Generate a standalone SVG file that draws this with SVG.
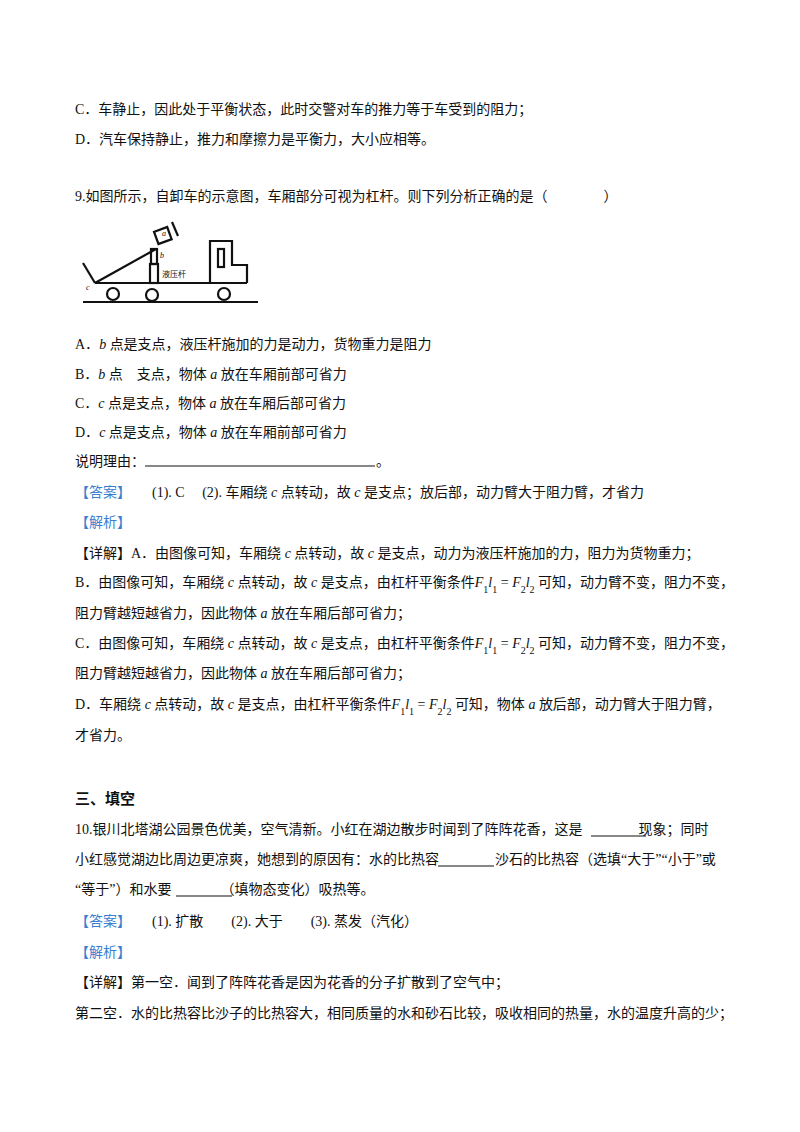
<svg xmlns="http://www.w3.org/2000/svg" width="800" height="1132" viewBox="0 0 800 1132">
<style>
text{font-family:"Liberation Serif","Noto Sans CJK SC",serif;font-size:14px;fill:#111}
.b{fill:#3a7fd0}
.h{font-weight:bold;font-size:15px;font-family:"Noto Sans CJK SC",sans-serif}
.i{font-style:italic}
.s{font-size:10px;baseline-shift:sub}
.f line,.f rect,.f polyline,.f circle{stroke:#111;stroke-width:2.2;fill:none}
.u{stroke:#111;stroke-width:1.2}
</style>
<rect width="800" height="1132" fill="#fff"/>
<text x="75" y="114">C．车静止，因此处于平衡状态，此时交警对车的推力等于车受到的阻力；</text>
<text x="75" y="144">D．汽车保持静止，推力和摩擦力是平衡力，大小应相等。</text>
<text x="75" y="201">9.如图所示，自卸车的示意图，车厢部分可视为杠杆。则下列分析正确的是（　　　　）</text>
<g id="truck" class="f">
<line x1="83" y1="302" x2="258" y2="302"/>
<line x1="95" y1="283" x2="247" y2="283"/>
<polyline points="210,283 210,241 232,241 232,265 247,265 247,283"/>
<rect x="218" y="249" width="6" height="18"/>
<circle cx="113" cy="294" r="6"/><circle cx="152" cy="295" r="6"/><circle cx="224" cy="294" r="6"/>
<line x1="95" y1="283" x2="156" y2="249"/>
<line x1="83" y1="263" x2="95" y2="283"/>
<rect x="150" y="264" width="8" height="19"/>
<rect x="151" y="249" width="6" height="15"/>
<rect x="156" y="229" width="14" height="13" transform="rotate(-20 163 236)"/>
<line x1="172" y1="222" x2="178" y2="236"/>
<text x="162" y="236" class="i" style="font-size:8px">a</text>
<text x="160" y="258" class="i" style="font-size:8px">b</text>
<text x="86" y="290" class="i" style="font-size:8px">c</text>
<text x="162" y="277" style="font-size:8px">液压杆</text>
</g>
<text x="75" y="349">A．<tspan class="i">b</tspan> 点是支点，液压杆施加的力是动力，货物重力是阻力</text>
<text x="75" y="379">B．<tspan class="i">b</tspan> 点　支点，物体 <tspan class="i">a</tspan> 放在车厢前部可省力</text>
<text x="75" y="408">C．<tspan class="i">c</tspan> 点是支点，物体 <tspan class="i">a</tspan> 放在车厢后部可省力</text>
<text x="75" y="437">D．<tspan class="i">c</tspan> 点是支点，物体 <tspan class="i">a</tspan> 放在车厢前部可省力</text>
<text x="75" y="466">说明理由：</text><line x1="145" y1="466" x2="375" y2="466" class="u"/><text x="376" y="466">。</text>
<text x="75" y="497"><tspan class="b">【答案】</tspan>　　(1). C　 (2). 车厢绕 <tspan class="i">c</tspan> 点转动，故 <tspan class="i">c</tspan> 是支点；放后部，动力臂大于阻力臂，才省力</text>
<text x="75" y="527" class="b">【解析】</text>
<text x="75" y="558">【详解】A．由图像可知，车厢绕 <tspan class="i">c</tspan> 点转动，故 <tspan class="i">c</tspan> 是支点，动力为液压杆施加的力，阻力为货物重力；</text>
<text x="75" y="587">B．由图像可知，车厢绕 <tspan class="i">c</tspan> 点转动，故 <tspan class="i">c</tspan> 是支点，由杠杆平衡条件<tspan class="i">F</tspan><tspan class="s">1</tspan><tspan class="i">l</tspan><tspan class="s">1</tspan> = <tspan class="i">F</tspan><tspan class="s">2</tspan><tspan class="i">l</tspan><tspan class="s">2</tspan> 可知，动力臂不变，阻力不变，</text>
<text x="75" y="618">阻力臂越短越省力，因此物体 <tspan class="i">a</tspan> 放在车厢后部可省力；</text>
<text x="75" y="648">C．由图像可知，车厢绕 <tspan class="i">c</tspan> 点转动，故 <tspan class="i">c</tspan> 是支点，由杠杆平衡条件<tspan class="i">F</tspan><tspan class="s">1</tspan><tspan class="i">l</tspan><tspan class="s">1</tspan> = <tspan class="i">F</tspan><tspan class="s">2</tspan><tspan class="i">l</tspan><tspan class="s">2</tspan> 可知，动力臂不变，阻力不变，</text>
<text x="75" y="678">阻力臂越短越省力，因此物体 <tspan class="i">a</tspan> 放在车厢后部可省力；</text>
<text x="75" y="709">D．车厢绕 <tspan class="i">c</tspan> 点转动，故 <tspan class="i">c</tspan> 是支点，由杠杆平衡条件<tspan class="i">F</tspan><tspan class="s">1</tspan><tspan class="i">l</tspan><tspan class="s">1</tspan> = <tspan class="i">F</tspan><tspan class="s">2</tspan><tspan class="i">l</tspan><tspan class="s">2</tspan> 可知，物体 <tspan class="i">a</tspan> 放后部，动力臂大于阻力臂，</text>
<text x="75" y="740">才省力。</text>
<text x="75" y="804" class="h">三、填空</text>
<text x="75" y="834">10.银川北塔湖公园景色优美，空气清新。小红在湖边散步时闻到了阵阵花香，这是　　　　现象；同时</text>
<line x1="591" y1="836" x2="646" y2="836" class="u"/>
<text x="75" y="864">小红感觉湖边比周边更凉爽，她想到的原因有：水的比热容　　　　沙石的比热容（选填“大于”“小于”或</text>
<line x1="438" y1="866" x2="494" y2="866" class="u"/>
<text x="75" y="894">“等于”）和水要　　　　（填物态变化）吸热等。</text>
<line x1="176" y1="896" x2="232" y2="896" class="u"/>
<text x="75" y="926"><tspan class="b">【答案】</tspan>　　(1). 扩散　　(2). 大于　　(3). 蒸发（汽化）</text>
<text x="75" y="957" class="b">【解析】</text>
<text x="75" y="987">【详解】第一空．闻到了阵阵花香是因为花香的分子扩散到了空气中；</text>
<text x="75" y="1018">第二空．水的比热容比沙子的比热容大，相同质量的水和砂石比较，吸收相同的热量，水的温度升高的少；</text>
</svg>
